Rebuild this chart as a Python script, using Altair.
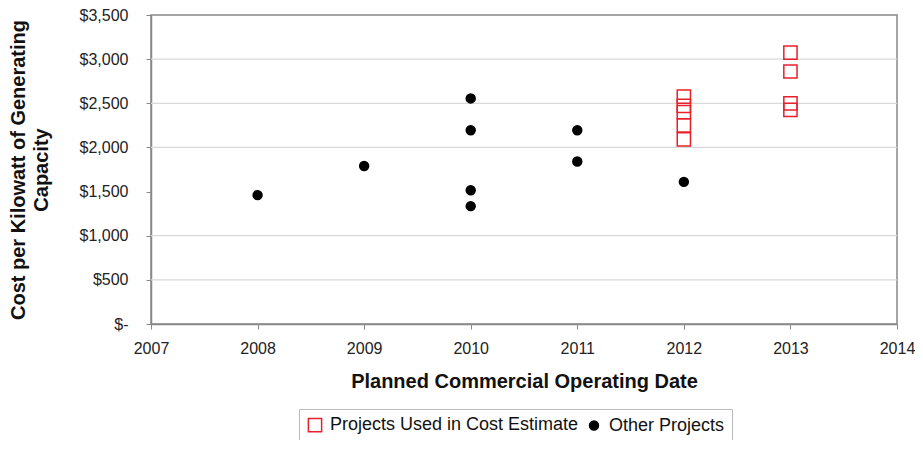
import altair as alt
import pandas as pd

# Data
used_years = [2012, 2012, 2012, 2012, 2012, 2013, 2013, 2013, 2013]
used_costs = [2575, 2470, 2400, 2250, 2090, 3075, 2860, 2500, 2425]
other_years = [2008, 2009, 2010, 2010, 2010, 2010, 2011, 2011, 2012]
other_costs = [1460, 1790, 2555, 2195, 1515, 1335, 2195, 1840, 1610]
series_names = ["Projects Used in Cost Estimate", "Other Projects"]
x_ticks = [2007, 2008, 2009, 2010, 2011, 2012, 2013, 2014]
y_ticks = [0, 500, 1000, 1500, 2000, 2500, 3000, 3500]
grid_values = [500, 1000, 2000, 2500, 3000]

df = pd.concat([
    pd.DataFrame({"year": used_years, "cost": used_costs, "series": series_names[0]}),
    pd.DataFrame({"year": other_years, "cost": other_costs, "series": series_names[1]}),
], ignore_index=True)
grid_df = pd.DataFrame({"cost": grid_values})

FONT = "Liberation Sans"

x_enc = alt.X(
    "year:Q",
    scale=alt.Scale(domain=[2007, 2014], nice=False, zero=False),
    axis=alt.Axis(
        values=x_ticks, format="d", title="Planned Commercial Operating Date",
        grid=False, tickSize=5, labelPadding=11, labelFontSize=16, labelFont=FONT,
        labelColor="#222", titleFont=FONT, titleFontSize=20, titleFontWeight="bold",
        titleColor="#111", titlePadding=15, domainColor="#888", tickColor="#888",
        domainWidth=1.5, labelFlush=False,
    ),
)
y_enc = alt.Y(
    "cost:Q",
    scale=alt.Scale(domain=[0, 3500], nice=False),
    axis=alt.Axis(
        values=y_ticks, title=["Cost per Kilowatt of Generating", "Capacity"],
        labelExpr="datum.value == 0 ? '$-' : '$' + format(datum.value, ',')",
        grid=False, tickSize=5, labelPadding=18, labelFontSize=16, labelFont=FONT,
        labelColor="#222", titleFont=FONT, titleFontSize=20, titleFontWeight="bold",
        titleColor="#111", titlePadding=28, titleLineHeight=23, domainColor="#888",
        tickColor="#888", domainWidth=1.5,
    ),
)

grid = alt.Chart(grid_df).mark_rule(color="#d9d9d9", strokeWidth=1.2).encode(
    y=y_enc
)

legend = alt.Legend(
    orient="none", legendX=148, legendY=394, direction="horizontal",
    labelFont=FONT, labelFontSize=18, labelColor="#111", labelLimit=0,
    strokeColor="#bbb", padding=7, columnPadding=6, symbolStrokeWidth=1.5,
    labelOffset=6,
)

points = alt.Chart(df).mark_point(opacity=1, strokeWidth=1.5).encode(
    x=x_enc,
    y=y_enc,
    shape=alt.Shape("series:N", title=None, legend=legend,
                    scale=alt.Scale(domain=series_names, range=["square", "circle"])),
    stroke=alt.Stroke("series:N", title=None, legend=legend,
                      scale=alt.Scale(domain=series_names, range=["#e8202a", "#000000"])),
    fill=alt.Fill("series:N", title=None, legend=legend,
                  scale=alt.Scale(domain=series_names, range=["transparent", "#000000"])),
    size=alt.Size("series:N", title=None, legend=legend,
                  scale=alt.Scale(domain=series_names, range=[175, 80])),
)

chart = alt.layer(grid, points).properties(
    width=746, height=309,
    autosize=alt.AutoSizeParams(type="none"),
    padding={"left": 143, "top": 7, "right": 18, "bottom": 116},
).configure_view(stroke="#888", strokeWidth=1.5)

chart.save("out.html", embed_options={"renderer": "svg", "actions": False})
